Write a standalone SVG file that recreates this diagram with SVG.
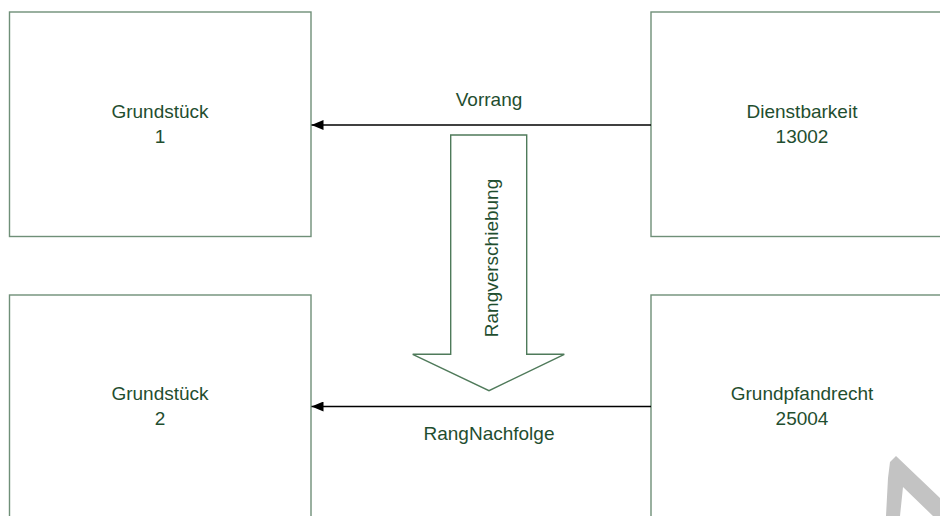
<svg xmlns="http://www.w3.org/2000/svg" width="940" height="516" viewBox="0 0 940 516">
<style>
.box{fill:#ffffff;stroke:#6f8f78;stroke-width:1.4}
.lbl{font-family:"Liberation Sans",Arial,sans-serif;font-size:19px;fill:#1f4e2f;text-anchor:middle}
.conn{stroke:#000000;stroke-width:1.3;fill:none}
</style>
<defs>
<marker id="ah" markerWidth="13" markerHeight="10" refX="12" refY="5" orient="auto" markerUnits="userSpaceOnUse">
<path d="M0,0 L12,5 L0,10 Z" fill="#000000"/>
</marker>
</defs>
<rect width="940" height="516" fill="#ffffff"/>
<g id="grundstueck1">
<rect class="box" x="9.5" y="12" width="301.5" height="224.5"/>
<text class="lbl" x="160" y="118">Grundstück</text>
<text class="lbl" x="160" y="143">1</text>
</g>
<g id="dienstbarkeit">
<rect class="box" x="651" y="12" width="310" height="224.5"/>
<text class="lbl" x="802" y="118">Dienstbarkeit</text>
<text class="lbl" x="802" y="143">13002</text>
</g>
<g id="grundstueck2">
<rect class="box" x="9.5" y="295" width="301.5" height="240"/>
<text class="lbl" x="160" y="400">Grundstück</text>
<text class="lbl" x="160" y="425">2</text>
</g>
<g id="grundpfandrecht">
<rect class="box" x="651" y="295" width="310" height="240"/>
<text class="lbl" x="802" y="400">Grundpfandrecht</text>
<text class="lbl" x="802" y="425">25004</text>
</g>
<g id="rangverschiebung">
<path class="box" d="M450.7,135 L526.7,135 L526.7,354.3 L564.3,354.3 L489,390.7 L412.7,354.3 L450.7,354.3 Z" style="stroke:#4f7a5a"/>
<text class="lbl" transform="translate(498,258) rotate(-90)" x="0" y="0">Rangverschiebung</text>
</g>
<g id="connectors">
<line class="conn" x1="651" y1="125" x2="311.5" y2="125" marker-end="url(#ah)"/>
<text class="lbl" x="489" y="106">Vorrang</text>
<line class="conn" x1="651" y1="406.5" x2="311.5" y2="406.5" marker-end="url(#ah)"/>
<text class="lbl" x="489" y="440">RangNachfolge</text>
</g>
<polygon points="886,516 888,478 890,462 896,456 940,498 940,516 933,516 903,487 900,516" fill="#c3c3c3"/>
</svg>
